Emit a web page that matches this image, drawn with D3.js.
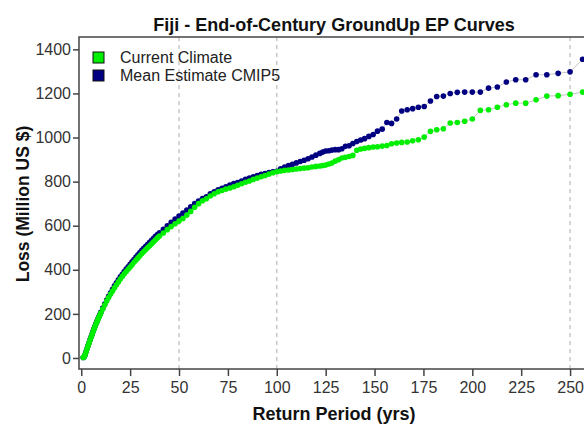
<!DOCTYPE html>
<html>

<head>
    <meta charset="UTF-8">
    <title>Fiji EP Curves</title>
    <style>
        body { margin: 0; background: #fff; }
        text { font-family: "Liberation Sans", Arial, sans-serif; }
    </style>
</head>

<body>
    <script src="https://cdn.jsdelivr.net/npm/d3@7"></script>

    <svg id="svg" width="584" height="426"></svg>

    <script>
        // return periods (yrs), shared by both curves
        const returnPeriods = [
            1, 1.5, 2, 2.5, 3, 3.5, 4, 4.5, 5, 5.5, 6, 6.5, 7, 7.5, 8, 8.5, 9, 9.5, 10,
            11, 12, 13, 14, 15, 16, 17, 18, 19, 20, 21, 22, 23, 24, 25, 26, 27, 28, 29, 30,
            31, 32, 33, 34, 35, 36, 37, 38, 39, 40,
            42, 44, 46, 48, 50, 52, 54, 56, 58, 60, 62, 64, 66, 68, 70, 72, 74, 76, 78, 80,
            82, 84, 86, 88, 90, 92, 94, 96, 98, 100, 102, 104, 106, 108, 110, 112, 114, 116, 118, 120,
            122, 123.5,
            125, 126.6, 128.2, 129.9, 131.6, 133.3, 135.1, 137, 138.9, 140.9, 142.9, 144.9, 147.1, 149.3,
            151.5, 153.9, 156.3, 158.7, 161.3, 163.9, 166.7, 169.5, 172.4, 175.4, 178.6, 181.8, 185.2,
            188.7, 192.3, 196.1, 200, 204.1, 208.3, 212.8, 217.4, 222.2, 227.3, 232.6, 238.1, 243.9, 250, 256.4
        ];

        // loss, million US $
        const currentClimate = [
            2, 6, 14, 28, 42, 55, 68, 80, 93, 105, 118, 130, 142, 153, 163, 174, 184, 194, 204,
            222, 240, 258, 274, 290, 304, 318, 332, 345, 358, 370, 382, 392, 402, 413, 423, 434, 444, 454, 464,
            474, 483, 492, 501, 509, 518, 527, 536, 545, 553,
            567, 582, 596, 609, 621, 633, 648, 665, 684, 700, 713, 722, 735, 745, 754, 760, 766, 771, 777, 783,
            790, 797, 803, 810, 816, 822, 828, 834, 840, 845, 848, 851, 853, 855, 857, 859, 861, 863, 866, 869,
            871, 873,
            875, 880, 884, 893, 899, 907, 910, 914, 919, 942, 948, 951, 954, 957,
            958, 961, 964, 972, 975, 978, 980, 985, 990, 1002, 1028, 1035, 1040,
            1066, 1068, 1074, 1084, 1123, 1126, 1137, 1149, 1156, 1156, 1171, 1188, 1190, 1196, 1206
        ];

        const meanCMIP5 = [
            2, 6, 15, 29, 43, 56, 69, 82, 95, 107, 120, 132, 144, 155, 166, 177, 187, 197, 207,
            226, 245, 263, 280, 296, 312, 327, 341, 355, 368, 380, 392, 403, 414, 425, 436, 447, 458, 468, 478,
            488, 498, 507, 516, 525, 534, 543, 552, 560, 568,
            584, 600, 615, 630, 644, 657, 671, 686, 700, 712, 723, 731, 745, 754, 763, 770, 777, 784, 791, 796,
            803, 810, 816, 822, 828, 833, 837, 841, 844, 847, 858, 866, 873, 879, 885, 891, 897, 904, 912, 920,
            928, 934,
            939, 940, 943, 945, 945, 949, 960, 963, 973, 982, 989, 995, 1005, 1014,
            1029, 1038, 1068, 1064, 1084, 1120, 1126, 1131, 1137, 1141, 1166, 1186, 1188,
            1200, 1205, 1206, 1206, 1206, 1224, 1229, 1252, 1262, 1262, 1285, 1285, 1291, 1298, 1355
        ];

        const xTicks = [0, 25, 50, 75, 100, 125, 150, 175, 200, 225, 250];
        const yTicks = [0, 200, 400, 600, 800, 1000, 1200, 1400];
        const gridYears = [50, 100, 250];
        const seriesNames = ["Current Climate", "Mean Estimate CMIP5"];
        const seriesColors = ["#00ee00", "#000080"];

        const svg = d3.select("#svg");
        const pLeft = 79, pRight = 591, pTop = 37, pBottom = 369;

        const x = d3.scaleLinear().domain([-1.15, 260.7]).range([pLeft, pRight]);
        const y = d3.scaleLinear().domain([-50, 1456]).range([pBottom, pTop]);

        // dashed return period markers
        svg.append("g")
            .selectAll("line")
            .data(gridYears)
            .enter().append("line")
            .attr("x1", d => x(d)).attr("x2", d => x(d))
            .attr("y1", pTop).attr("y2", pBottom)
            .attr("stroke", "#c8c8c8")
            .attr("stroke-width", 1.5)
            .attr("stroke-dasharray", "4,4");

        const series = [
            { name: seriesNames[1], color: seriesColors[1], values: meanCMIP5 },
            { name: seriesNames[0], color: seriesColors[0], values: currentClimate }
        ];

        const line = d3.line()
            .x(d => x(d[0]))
            .y(d => y(d[1]));

        series.forEach(function (s) {
            const pts = returnPeriods.map((rp, i) => [rp, s.values[i]]);
            svg.append("path")
                .datum(pts)
                .attr("fill", "none")
                .attr("stroke", "#c4c4c4")
                .attr("stroke-width", 1)
                .attr("d", line);
            svg.append("g")
                .selectAll("circle")
                .data(pts)
                .enter().append("circle")
                .attr("cx", d => x(d[0]))
                .attr("cy", d => y(d[1]))
                .attr("r", 2.8)
                .attr("fill", s.color);
        });

        // box (left, top, bottom) and a right side just off the page
        svg.append("path")
            .attr("d", `M${pRight},${pTop}H${pLeft}V${pBottom}H${pRight}V${pTop}`)
            .attr("fill", "none")
            .attr("stroke", "#444")
            .attr("stroke-width", 1.5);

        const xAxis = svg.append("g")
            .attr("transform", `translate(0,${pBottom})`)
            .call(d3.axisBottom(x).tickValues(xTicks).tickSize(7).tickPadding(6).tickFormat(d3.format("d")));
        const yAxis = svg.append("g")
            .attr("transform", `translate(${pLeft},0)`)
            .call(d3.axisLeft(y).tickValues(yTicks).tickSize(6).tickPadding(2).tickFormat(d3.format("d")));
        svg.append("g")
            .attr("transform", `translate(${pRight},0)`)
            .call(d3.axisLeft(y).tickValues(yTicks).tickSize(-7).tickFormat(""))
            .select(".domain").remove();

        [xAxis, yAxis].forEach(function (g) {
            g.select(".domain").remove();
            g.selectAll(".tick line").attr("stroke", "#444").attr("stroke-width", 1.5);
            g.selectAll(".tick text")
                .attr("fill", "#333")
                .style("font-size", "16px")
                .style("font-family", "'Liberation Sans', Arial, sans-serif");
        });

        svg.append("text")
            .attr("x", 334).attr("y", 31)
            .attr("text-anchor", "middle")
            .style("font-size", "18px")
            .style("font-weight", "bold")
            .attr("fill", "#111")
            .text("Fiji - End-of-Century GroundUp EP Curves");

        svg.append("text")
            .attr("x", 334).attr("y", 420)
            .attr("text-anchor", "middle")
            .style("font-size", "18px")
            .style("font-weight", "bold")
            .attr("fill", "#111")
            .text("Return Period (yrs)");

        svg.append("text")
            .attr("transform", "translate(29,204) rotate(-90)")
            .attr("text-anchor", "middle")
            .style("font-size", "17.5px")
            .style("font-weight", "bold")
            .attr("fill", "#111")
            .text("Loss (Million US $)");

        // legend
        const legend = svg.append("g")
            .selectAll("g")
            .data(seriesNames)
            .enter().append("g")
            .attr("transform", (d, i) => `translate(93,${52 + i * 18})`);
        legend.append("rect")
            .attr("width", 11).attr("height", 11)
            .attr("fill", (d, i) => seriesColors[i])
            .attr("stroke", "#111")
            .attr("stroke-width", 1);
        legend.append("text")
            .attr("x", 27).attr("y", 11)
            .style("font-size", "16px")
            .attr("fill", "#222")
            .text(d => d);
    </script>

</body>

</html>
